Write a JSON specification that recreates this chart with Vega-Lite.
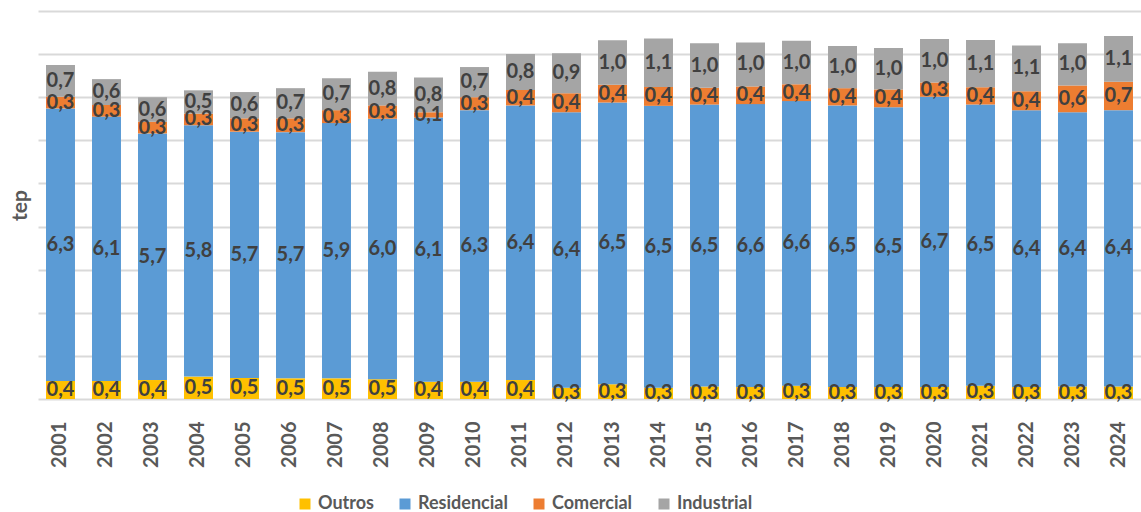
{
  "$schema": "https://vega.github.io/schema/vega-lite/v6.json",
  "width": 1103,
  "height": 388,
  "autosize": {"type": "none"},
  "padding": {"left": 38, "top": 11, "right": 0, "bottom": 113},
  "background": "white",
  "config": {
    "locale": {"number": {"decimal": ",", "thousands": ".", "grouping": [3], "currency": ["", " €"]}},
    "view": {"stroke": null},
    "font": "Lato"
  },
  "datasets": {
    "tipos": [
      {"tipo": "Outros", "ordem": 1},
      {"tipo": "Residencial", "ordem": 2},
      {"tipo": "Comercial", "ordem": 3},
      {"tipo": "Industrial", "ordem": 4}
    ]
  },
  "data": {
    "values": [
      {"ano": "2001", "Outros": 0.42, "Residencial": 6.32, "Comercial": 0.27, "Industrial": 0.74},
      {"ano": "2002", "Outros": 0.42, "Residencial": 6.13, "Comercial": 0.27, "Industrial": 0.60},
      {"ano": "2003", "Outros": 0.44, "Residencial": 5.72, "Comercial": 0.27, "Industrial": 0.57},
      {"ano": "2004", "Outros": 0.52, "Residencial": 5.83, "Comercial": 0.27, "Industrial": 0.54},
      {"ano": "2005", "Outros": 0.49, "Residencial": 5.71, "Comercial": 0.31, "Industrial": 0.61},
      {"ano": "2006", "Outros": 0.48, "Residencial": 5.71, "Comercial": 0.32, "Industrial": 0.70},
      {"ano": "2007", "Outros": 0.48, "Residencial": 5.92, "Comercial": 0.30, "Industrial": 0.74},
      {"ano": "2008", "Outros": 0.46, "Residencial": 6.04, "Comercial": 0.31, "Industrial": 0.78},
      {"ano": "2009", "Outros": 0.40, "Residencial": 6.13, "Comercial": 0.12, "Industrial": 0.81},
      {"ano": "2010", "Outros": 0.40, "Residencial": 6.30, "Comercial": 0.30, "Industrial": 0.70},
      {"ano": "2011", "Outros": 0.44, "Residencial": 6.37, "Comercial": 0.36, "Industrial": 0.83},
      {"ano": "2012", "Outros": 0.26, "Residencial": 6.39, "Comercial": 0.44, "Industrial": 0.93},
      {"ano": "2013", "Outros": 0.34, "Residencial": 6.54, "Comercial": 0.41, "Industrial": 1.03},
      {"ano": "2014", "Outros": 0.26, "Residencial": 6.54, "Comercial": 0.44, "Industrial": 1.12},
      {"ano": "2015", "Outros": 0.29, "Residencial": 6.54, "Comercial": 0.39, "Industrial": 1.03},
      {"ano": "2016", "Outros": 0.28, "Residencial": 6.56, "Comercial": 0.41, "Industrial": 1.02},
      {"ano": "2017", "Outros": 0.31, "Residencial": 6.60, "Comercial": 0.39, "Industrial": 1.01},
      {"ano": "2018", "Outros": 0.28, "Residencial": 6.53, "Comercial": 0.40, "Industrial": 0.98},
      {"ano": "2019", "Outros": 0.28, "Residencial": 6.49, "Comercial": 0.41, "Industrial": 0.96},
      {"ano": "2020", "Outros": 0.28, "Residencial": 6.73, "Comercial": 0.33, "Industrial": 1.01},
      {"ano": "2021", "Outros": 0.31, "Residencial": 6.52, "Comercial": 0.40, "Industrial": 1.10},
      {"ano": "2022", "Outros": 0.28, "Residencial": 6.42, "Comercial": 0.44, "Industrial": 1.06},
      {"ano": "2023", "Outros": 0.29, "Residencial": 6.36, "Comercial": 0.62, "Industrial": 0.98},
      {"ano": "2024", "Outros": 0.29, "Residencial": 6.41, "Comercial": 0.66, "Industrial": 1.06}
    ]
  },
  "transform": [
    {"fold": ["Outros", "Residencial", "Comercial", "Industrial"], "as": ["tipo", "valor"]},
    {"lookup": "tipo", "from": {"data": {"name": "tipos"}, "key": "tipo", "fields": ["ordem"]}}
  ],
  "encoding": {
    "x": {
      "field": "ano", "type": "ordinal",
      "scale": {"paddingInner": 0.37, "paddingOuter": 0.174},
      "axis": {
        "title": null, "labelAngle": -90, "domain": false, "ticks": false, "tickSize": 0,
        "labelPadding": 22, "labelFont": "Lato", "labelFontWeight": "bold", "labelFontSize": 20,
        "labelColor": "#595959", "grid": false
      }
    },
    "y": {
      "field": "valor", "type": "quantitative", "stack": "zero",
      "scale": {"domain": [0, 9], "nice": false},
      "axis": {
        "title": "tep", "values": [0, 1, 2, 3, 4, 5, 6, 7, 8, 9], "labels": false, "ticks": false,
        "domain": false, "grid": true, "gridColor": "#d9d9d9", "gridWidth": 2,
        "titleFont": "Lato", "titleFontWeight": "bold", "titleFontSize": 21, "titleColor": "#595959",
        "titlePadding": 8
      }
    },
    "order": {"field": "ordem", "type": "quantitative", "sort": "ascending"}
  },
  "layer": [
    {
      "mark": {"type": "bar"},
      "encoding": {
        "color": {
          "field": "tipo", "type": "nominal",
          "sort": ["Outros", "Residencial", "Comercial", "Industrial"],
          "scale": {
            "domain": ["Outros", "Residencial", "Comercial", "Industrial"],
            "range": ["#FFC000", "#5B9BD5", "#ED7D31", "#A5A5A5"]
          },
          "legend": {
            "title": null, "orient": "none", "direction": "horizontal", "legendX": 258, "legendY": 484,
            "symbolType": "square", "symbolSize": 121, "symbolStrokeWidth": 0, "symbolOpacity": 1,
            "labelFont": "Lato", "labelFontWeight": "bold", "labelFontSize": 18, "labelColor": "#595959",
            "labelOffset": 4, "columnPadding": 22
          }
        }
      }
    },
    {
      "mark": {"type": "text", "font": "Lato", "fontWeight": "bold", "fontSize": 20, "color": "#404040", "baseline": "middle", "align": "center"},
      "encoding": {
        "y": {"field": "valor", "type": "quantitative", "stack": "zero", "bandPosition": 0.5},
        "detail": {"field": "tipo", "type": "nominal"},
        "text": {"field": "valor", "type": "quantitative", "format": ".1f"}
      }
    }
  ]
}
